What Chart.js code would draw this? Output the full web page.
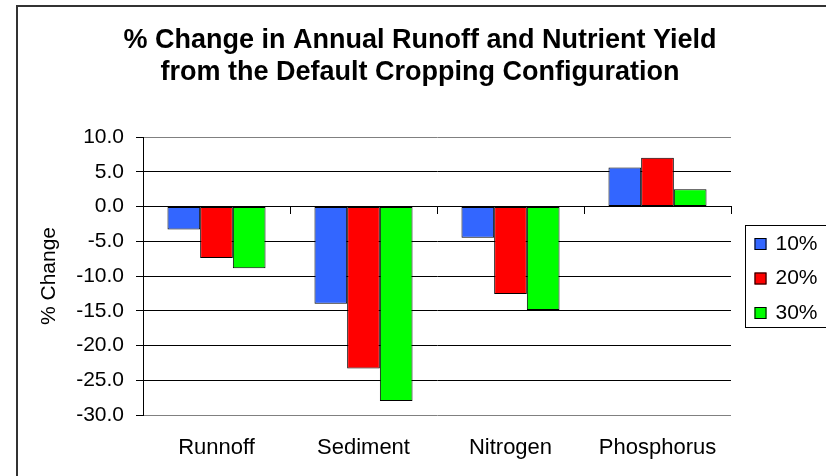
<!DOCTYPE html>
<html>
<head>
<meta charset="utf-8">
<script src="https://cdn.jsdelivr.net/npm/chart.js@4"></script>
<style>
  html, body { margin: 0; padding: 0; background: #fff; }
  canvas { display: block; }
</style>
</head>
<body>
<canvas id="chart" width="826" height="476"></canvas>
<script>
const categories = ["Runnoff", "Sediment", "Nitrogen", "Phosphorus"];
const seriesNames = ["10%", "20%", "30%"];
const pct10 = [-3.3, -14.0, -4.5, 5.6];
const pct20 = [-7.4, -23.3, -12.6, 7.0];
const pct30 = [-8.9, -28.0, -14.9, 2.5];
const yTicks = { min: -30, max: 10, step: 5 };
const titleLines = ["% Change in Annual Runoff and Nutrient Yield", "from the Default Cropping Configuration"];

const colors = ["#3366FF", "#FF0000", "#00FF00"];
const fontFamily = "'Liberation Sans', Arial, sans-serif";

// outer frame + boxed legend, Excel style
const framePlugin = {
  id: "frame",
  afterDraw(chart) {
    const ctx = chart.ctx;
    const area = chart.chartArea;
    ctx.save();
    ctx.strokeStyle = "#333";
    ctx.lineWidth = 2;
    ctx.strokeRect(17, 6, 900, 600);

    const top = area.top + 88;
    const left = area.right + 14.5;
    ctx.lineWidth = 1;
    ctx.strokeStyle = "#000";
    ctx.strokeRect(left, top + 0.5, 120, 102);

    ctx.font = "21px " + fontFamily;
    ctx.textBaseline = "middle";
    ctx.textAlign = "left";
    chart.data.datasets.forEach((ds, i) => {
      const cy = top + 19 + i * 34.5;
      ctx.fillStyle = ds.backgroundColor;
      ctx.fillRect(left + 9, cy - 6, 12, 12);
      ctx.strokeStyle = "#000";
      ctx.strokeRect(left + 9.5, cy - 5.5, 11, 11);
      ctx.fillStyle = "#000";
      ctx.fillText(ds.label, left + 30, cy);
    });
    ctx.restore();
  }
};

const datasets = [pct10, pct20, pct30].map((vals, i) => ({
  label: seriesNames[i],
  data: vals,
  backgroundColor: colors[i],
  borderColor: "#000",
  borderWidth: 1,
  borderSkipped: false,
  categoryPercentage: 0.667,
  barPercentage: 1.0,
  xAxisID: "x",
  yAxisID: "y"
}));

new Chart(document.getElementById("chart"), {
  type: "bar",
  data: { labels: categories, datasets: datasets },
  options: {
    responsive: false,
    animation: false,
    layout: { padding: { left: 14, right: 0, top: 0, bottom: 0 } },
    plugins: {
      legend: { display: false },
      tooltip: { enabled: false },
      title: {
        display: true,
        text: titleLines,
        color: "#000",
        font: { family: fontFamily, size: 27, weight: "bold", lineHeight: 32 / 27 },
        padding: { top: 25, bottom: 48 }
      }
    },
    scales: {
      x: {
        type: "category",
        offset: true,
        grid: {
          offset: true,
          drawTicks: false,
          color: (c) => (c.index === categories.length ? "#808080" : "rgba(0,0,0,0)")
        },
        border: { display: false },
        ticks: {
          color: "#000",
          font: { family: fontFamily, size: 22 },
          padding: 20,
          autoSkip: false,
          maxRotation: 0
        },
        afterFit(s) { s.height = 61; }
      },
      x2: {
        type: "category",
        labels: categories,
        position: { y: 0 },
        offset: true,
        grid: { offset: true, drawOnChartArea: false, drawTicks: true, tickLength: 7, color: "#000" },
        border: { display: true, color: "#000", width: 1 },
        ticks: { display: false }
      },
      y: {
        type: "linear",
        position: "left",
        min: yTicks.min,
        max: yTicks.max,
        grid: {
          color: (c) => (c.tick && (c.tick.value === yTicks.max || c.tick.value === yTicks.min) ? "#808080" : "#000"),
          tickColor: "#000",
          tickLength: 7,
          lineWidth: 1
        },
        border: { display: true, color: "#000", width: 1 },
        ticks: {
          stepSize: yTicks.step,
          color: "#000",
          font: { family: fontFamily, size: 21 },
          padding: 12,
          callback: (v) => v.toFixed(1)
        },
        title: {
          display: true,
          text: "% Change",
          color: "#000",
          font: { family: fontFamily, size: 21 },
          padding: { top: 23, bottom: 0 }
        },
        afterFit(s) { s.width = 129; }
      },
      y2: {
        type: "linear",
        position: "right",
        display: true,
        grid: { display: false },
        border: { display: false },
        ticks: { display: false },
        afterFit(s) { s.width = 95; }
      }
    }
  },
  plugins: [framePlugin]
});
</script>
</body>
</html>
